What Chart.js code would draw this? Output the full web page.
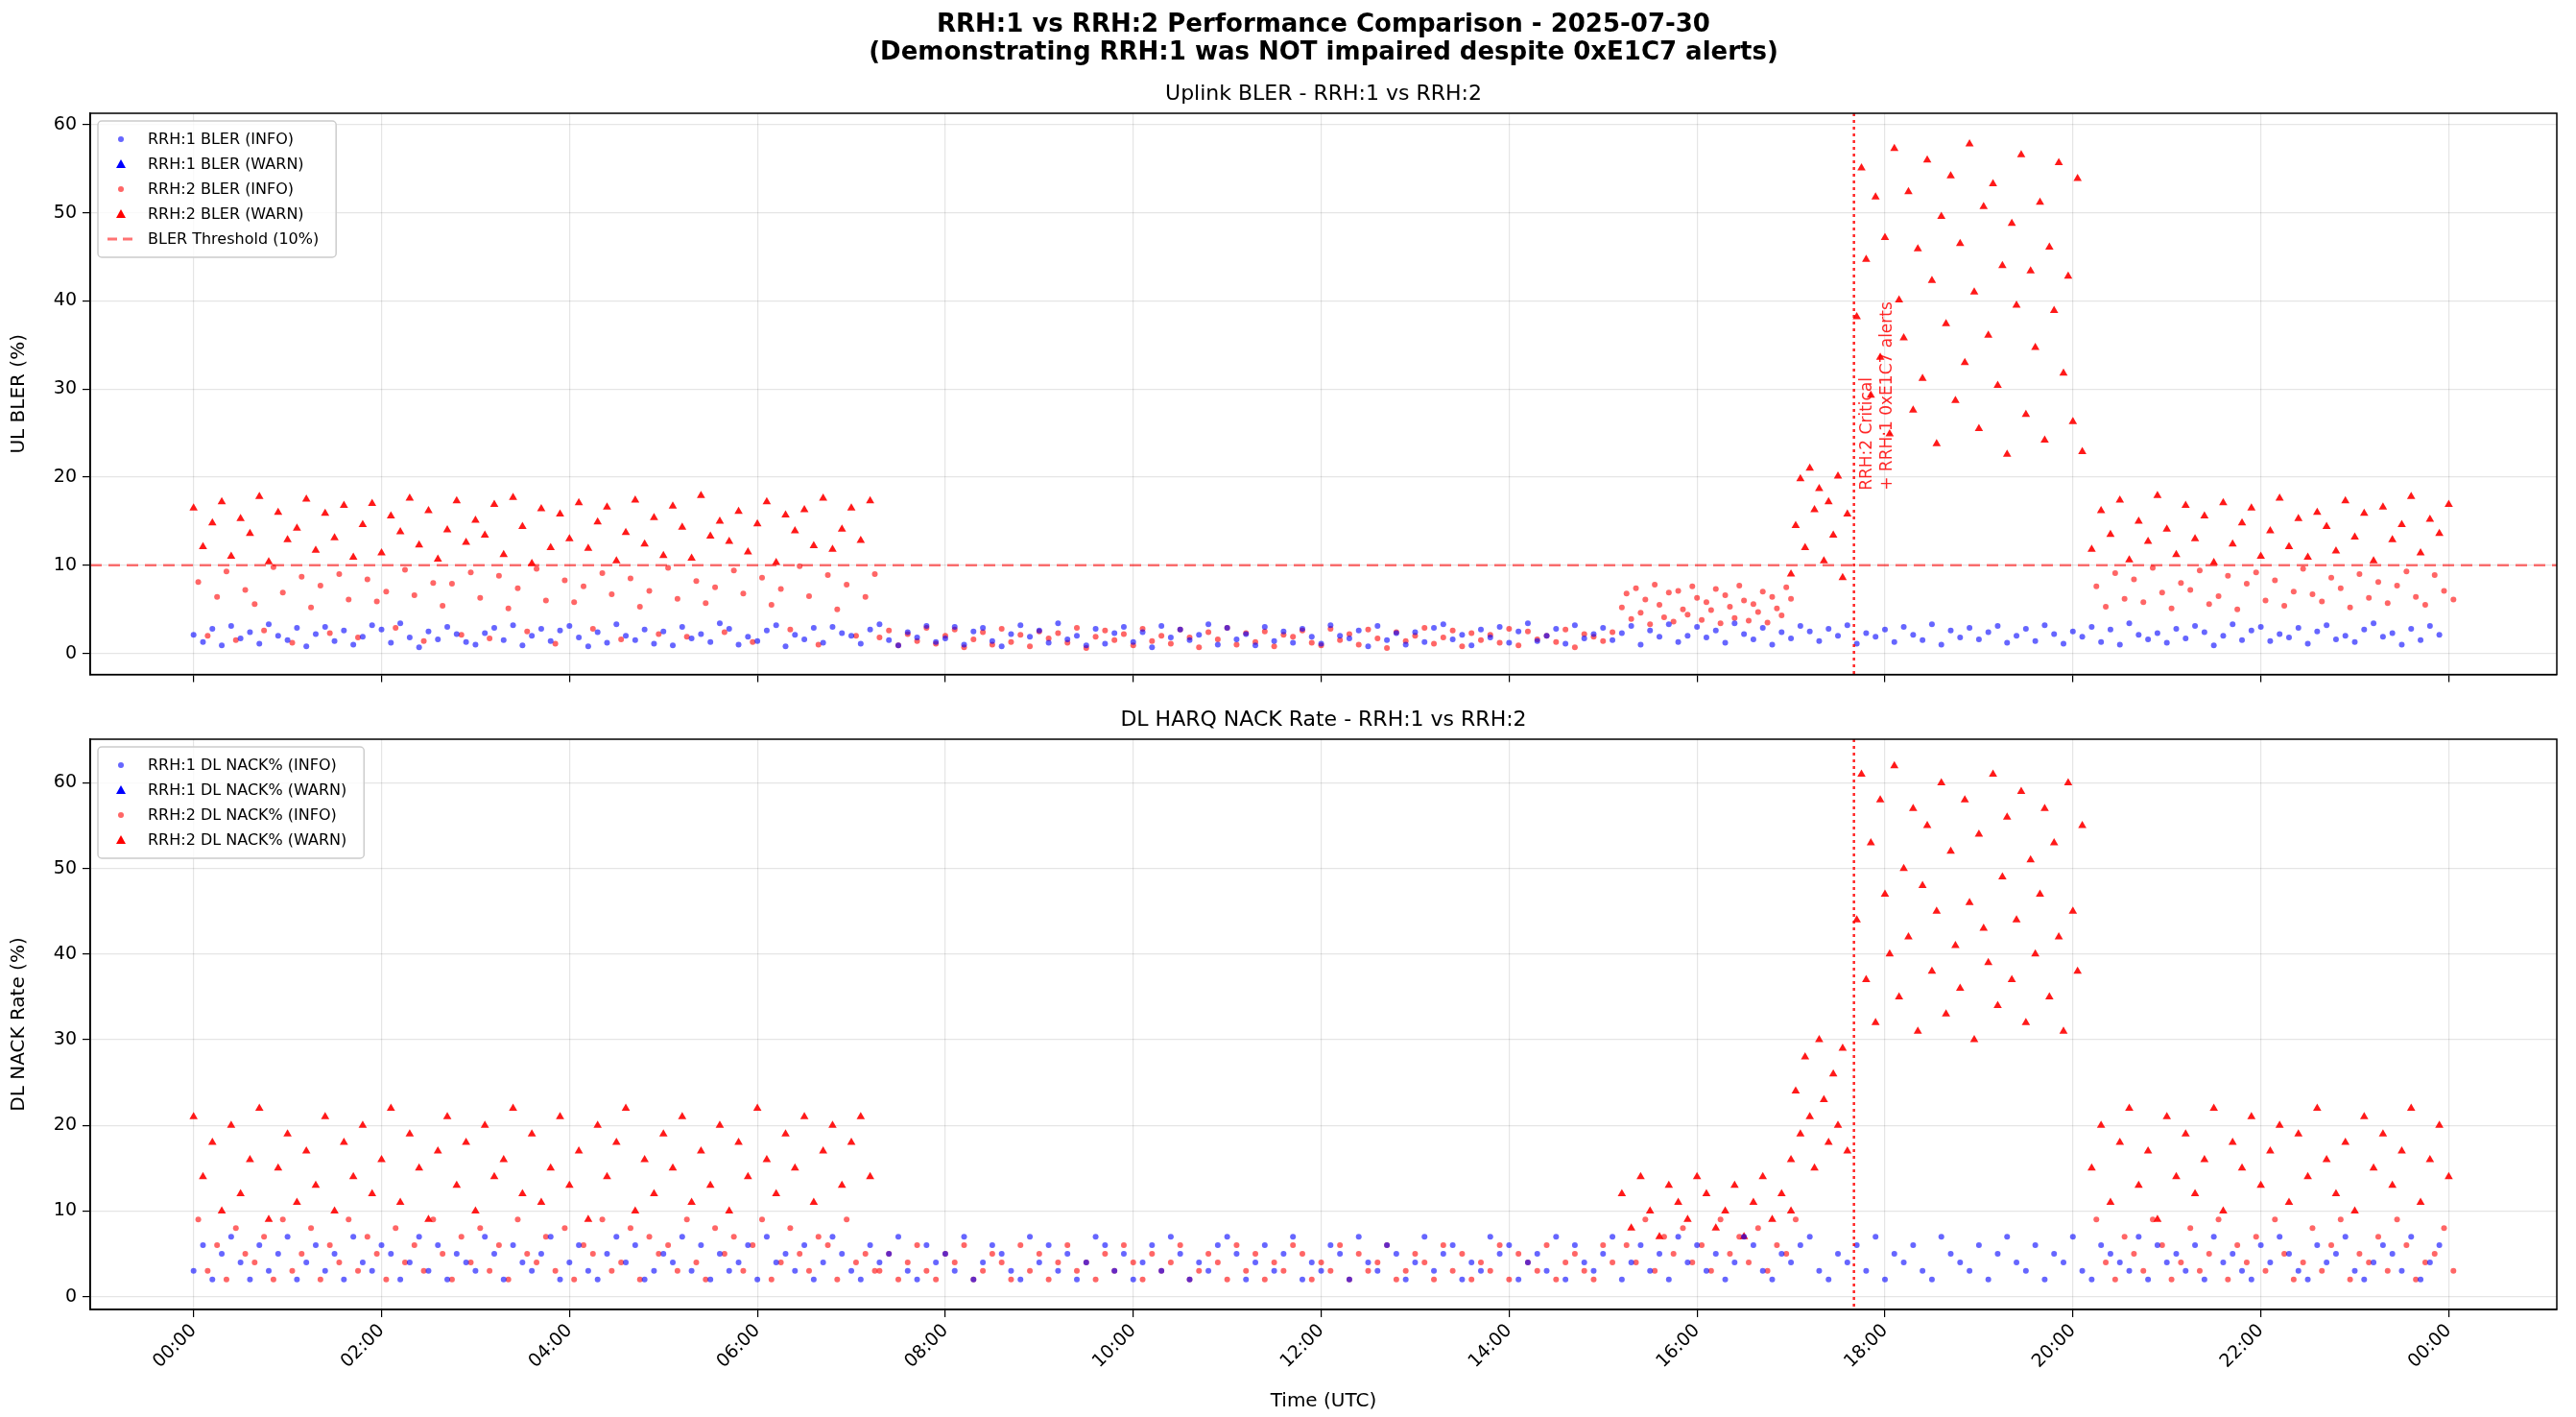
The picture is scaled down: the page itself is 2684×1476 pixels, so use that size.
<!DOCTYPE html>
<html>
<head>
<meta charset="utf-8">
<script src="https://cdn.jsdelivr.net/npm/chart.js@4/dist/chart.umd.min.js"></script>
<style>
  body { margin: 0; background: #fff; }
  #wrap { position: relative; width: 2684px; height: 1476px; }
  .box { position: absolute; left: 0; width: 2684px; }
</style>
</head>
<body>
<div id="wrap">
  <div class="box" style="top:0;height:720px"><canvas id="ul"></canvas></div>
  <div class="box" style="top:720px;height:756px"><canvas id="dl"></canvas></div>
</div>
<script>
// time in hours since 00:00 UTC, alert marker
const alertHour = 17.67;
const hourTicks = [0, 2, 4, 6, 8, 10, 12, 14, 16, 18, 20, 22, 24];
const blerThreshold = 10;

// UL BLER, RRH:1 (INFO) every 0.1 h over the day
const ulRrh1Info = [
  2.1,1.3,2.8,0.9,3.1,1.7,2.4,1.1,3.3,2.0, 1.5,2.9,0.8,2.2,3.0,1.4,2.6,1.0,1.9,3.2,
  2.7,1.2,3.4,1.8,0.7,2.5,1.6,3.0,2.2,1.3, 1.0,2.3,2.9,1.5,3.2,0.9,2.0,2.8,1.4,2.6,
  3.1,1.8,0.8,2.4,1.2,3.3,2.0,1.5,2.7,1.1, 2.5,0.9,3.0,1.7,2.2,1.3,3.4,2.8,1.0,1.9,
  1.4,2.6,3.2,0.8,2.1,1.6,2.9,1.2,3.0,2.3, 2.0,1.1,2.7,3.3,1.5,0.9,2.4,1.8,3.1,1.3,
  1.7,3.0,1.0,2.5,2.9,1.4,0.8,2.2,3.2,1.9, 2.6,1.2,3.4,1.6,2.0,0.9,2.8,1.1,2.3,3.0,
  1.3,2.4,0.7,3.1,1.8,2.7,1.5,2.1,3.3,1.0, 2.9,1.6,2.2,0.9,3.0,1.4,2.5,1.2,2.8,1.9,
  1.1,3.2,2.0,1.7,2.6,0.8,3.1,1.5,2.3,1.0, 2.4,1.3,2.9,3.3,1.6,2.1,0.9,2.7,1.8,3.0,
  1.2,2.5,3.4,1.4,2.0,2.8,1.1,3.2,1.7,2.2, 2.9,1.5,2.3,3.1,1.0,2.6,1.9,3.3,1.3,2.0,
  3.0,1.8,2.6,1.2,3.4,2.2,1.6,2.9,1.0,2.4, 1.7,3.1,2.5,1.4,2.8,2.0,3.2,1.1,2.3,1.9,
  2.7,1.3,3.0,2.1,1.5,3.3,1.0,2.6,1.8,2.9, 1.6,2.4,3.1,1.2,2.0,2.8,1.4,3.2,2.2,1.1,
  2.5,1.9,3.0,1.3,2.7,1.0,3.4,2.1,1.6,2.3, 1.2,2.8,1.7,3.1,2.4,0.9,2.0,3.3,1.5,2.6,
  3.0,1.4,2.2,1.8,2.9,1.1,2.5,3.2,1.6,2.0, 1.3,2.7,3.4,1.9,2.3,1.0,2.8,1.5,3.1,2.1
];

// UL BLER, RRH:2 (WARN) segments
const ulRrh2WarnA = [
  16.5,12.1,14.8,17.2,11.0,15.3,13.6,17.8,10.4,16.0, 12.9,14.2,17.5,11.7,15.9,13.1,16.8,10.9,14.6,17.0,
  11.4,15.6,13.8,17.6,12.3,16.2,10.7,14.0,17.3,12.6, 15.1,13.4,16.9,11.2,17.7,14.4,10.2,16.4,12.0,15.8,
  13.0,17.1,11.9,14.9,16.6,10.5,13.7,17.4,12.4,15.4, 11.1,16.7,14.3,10.8,17.9,13.3,15.0,12.7,16.1,11.5,
  14.7,17.2,10.3,15.7,13.9,16.3,12.2,17.6,11.8,14.1,16.5,12.8,17.3
];
const ulRrh2WarnB = [9.0,14.5,19.8,12.0,21.0,16.3,18.7,10.5,17.2,13.4,20.1,8.6,15.8];
const ulRrh2WarnC = [
  38.2,55.1,44.7,29.3,51.8,33.6,47.2,24.9,57.3,40.1, 35.8,52.4,27.6,45.9,31.2,56.0,42.3,23.8,49.6,37.4,
  54.2,28.7,46.5,33.0,57.8,41.0,25.5,50.7,36.1,53.3, 30.4,44.0,22.6,48.8,39.5,56.6,27.1,43.4,34.7,51.2,
  24.2,46.1,38.9,55.7,31.8,42.8,26.3,53.9,22.9
];
const ulRrh2WarnD = [
  11.8,16.2,13.5,17.4,10.6,15.0,12.7,17.9,14.1,11.2, 16.8,13.0,15.6,10.3,17.1,12.4,14.8,16.5,11.0,13.9,
  17.6,12.1,15.3,10.9,16.0,14.4,11.6,17.3,13.2,15.9, 10.5,16.6,12.9,14.6,17.8,11.4,15.2,13.6,16.9
];

// UL BLER, RRH:2 (INFO) segments
const ulRrh2InfoA = [
  8.1,2.0,6.4,9.3,1.5,7.2,5.6,2.6,9.8,6.9, 1.2,8.7,5.2,7.7,2.3,9.0,6.1,1.8,8.4,5.9,
  7.0,2.9,9.5,6.6,1.4,8.0,5.4,7.9,2.1,9.2, 6.3,1.7,8.8,5.1,7.4,2.5,9.6,6.0,1.1,8.3,
  5.8,7.6,2.8,9.1,6.7,1.6,8.5,5.3,7.1,2.2, 9.7,6.2,1.9,8.2,5.7,7.5,2.4,9.4,6.8,1.3,
  8.6,5.5,7.3,2.7,9.9,6.5,1.0,8.9,5.0,7.8,2.0,6.4,9.0
];
const ulRrh2InfoB = [
  1.8,2.6,0.9,2.2,1.4,2.9,1.1,2.0,2.7,0.7, 1.6,2.4,1.0,2.8,1.3,2.1,0.8,2.5,1.7,2.3,
  1.2,2.9,0.6,1.9,2.6,1.5,2.2,0.9,2.8,1.4, 2.0,1.1,2.7,1.8,0.7,2.4,1.6,2.9,1.0,2.3,
  1.3,2.5,0.8,2.1,1.9,2.6,1.2,0.9,2.8,1.5, 2.2,1.0,2.7,1.7,0.6,2.4,1.4,2.0,2.9,1.1,
  1.8,2.6,0.8,2.3,1.5,2.1,1.2,2.8,0.9,2.5, 1.6,2.0,1.3,2.7,0.7,2.2,1.9,1.4,2.4
];
const ulRrh2InfoC = [
  5.2,6.8,3.9,7.4,4.6,6.1,3.3,7.8,5.5,4.1, 6.9,3.6,7.1,5.0,4.4,7.6,6.3,3.8,5.8,4.9,
  7.3,3.4,6.6,5.3,4.0,7.7,6.0,3.7,5.6,4.7, 7.0,3.5,6.4,5.1,4.3,7.5,6.2
];
const ulRrh2InfoD = [
  7.6,5.3,9.1,6.2,8.4,5.8,9.7,6.9,5.1,8.0, 7.2,9.4,5.6,6.5,8.8,5.0,7.9,9.2,6.0,8.3,
  5.4,7.0,9.6,6.7,5.9,8.6,7.4,5.2,9.0,6.3, 8.1,5.7,7.7,9.3,6.4,5.5,8.9,7.1,6.1
];

// DL NACK %, RRH:1 (INFO) every 0.1 h
const dlRrh1Info = [
  3,6,2,5,7,4,2,6,3,5, 7,2,4,6,3,5,2,7,4,3, 6,5,2,4,7,3,6,2,5,4, 3,7,5,2,6,4,3,5,7,2,
  4,6,3,2,5,7,4,6,2,3, 5,4,7,3,6,2,5,3,4,6, 2,7,4,5,3,6,2,4,7,5, 3,2,6,4,5,7,3,2,6,4,
  5,3,7,2,4,6,5,3,2,7, 4,6,3,5,2,4,7,6,3,5, 2,4,6,3,7,5,2,4,3,6, 7,5,2,4,6,3,5,7,2,4,
  3,6,5,2,7,4,3,6,5,2, 4,7,3,5,6,2,4,3,7,5, 6,2,4,5,3,7,2,6,4,3, 5,7,2,4,6,3,5,2,7,4,
  6,3,5,2,4,7,6,3,2,5, 4,6,7,3,2,5,4,6,3,7, 2,5,4,6,3,2,7,5,4,3, 6,2,5,7,4,3,6,2,5,4,
  7,3,2,6,5,4,3,7,2,6, 4,5,3,6,2,7,4,5,3,2, 6,4,7,5,3,2,6,4,5,7, 3,2,4,6,5,3,7,2,4,6
];

// DL NACK %, RRH:2 (WARN) segments
const dlRrh2WarnA = [
  21,14,18,10,20,12,16,22,9,15, 19,11,17,13,21,10,18,14,20,12, 16,22,11,19,15,9,17,21,13,18,
  10,20,14,16,22,12,19,11,15,21, 13,17,9,20,14,18,22,10,16,12, 19,15,21,11,17,13,20,10,18,14,
  22,16,12,19,15,21,11,17,20,13,18,21,14
];
const dlRrh2WarnB = [12,8,14,10,7,13,11,9,14,12,8,10,13,7,11,14,9,12,10];
const dlRrh2WarnC = [16,24,19,28,21,15,30,23,18,26,20,29,17];
const dlRrh2WarnD = [
  44,61,37,53,32,58,47,40,62,35, 50,42,57,31,48,55,38,45,60,33, 52,41,36,58,46,30,54,43,39,61,
  34,49,56,37,44,59,32,51,40,47, 57,35,53,42,31,60,45,38,55
];
const dlRrh2WarnE = [
  15,20,11,18,22,13,17,9,21,14, 19,12,16,22,10,18,15,21,13,17, 20,11,19,14,22,16,12,18,10,21,
  15,19,13,17,22,11,16,20,14
];

// DL NACK %, RRH:2 (INFO) segments
const dlRrh2InfoA = [
  9,3,6,2,8,5,4,7,2,9, 3,5,8,2,6,4,9,3,7,5, 2,8,4,6,3,9,5,2,7,4, 8,3,6,2,9,5,4,7,3,8,
  2,6,5,9,3,4,8,2,7,5, 6,3,9,4,2,8,5,7,3,6, 9,2,4,8,5,3,7,6,2,9,4,5,3
];
const dlRrh2InfoB = [
  3,5,2,4,6,3,2,5,4,6, 2,3,5,4,2,6,3,5,2,4, 6,3,4,2,5,3,6,4,2,5, 3,4,6,2,3,5,4,2,6,3,
  5,2,4,3,6,5,2,4,3,6, 2,5,3,4,6,2,3,5,4,2, 6,3,5,2,4,3,6,2,5,4, 3,6,2,4,5,3,2,6,4
];
const dlRrh2InfoC = [6,4,9,3,7,5,8,4,6,3,9,5,7,4,8,3,6,5,9];
const dlRrh2InfoD = [
  9,4,2,7,5,3,9,6,2,4, 8,3,5,9,2,6,4,7,3,9, 5,2,4,8,3,6,9,2,5,4, 7,3,9,6,2,4,5,8,3
];

// segment tables: start hour, step (h), values
const ulBlue = [{ start: 0, step: 0.1, values: ulRrh1Info }];
const ulRedWarn = [
  { start: 0, step: 0.1, values: ulRrh2WarnA },
  { start: 17.0, step: 0.05, values: ulRrh2WarnB },
  { start: 17.7, step: 0.05, values: ulRrh2WarnC },
  { start: 20.2, step: 0.1, values: ulRrh2WarnD }
];
const ulRedInfo = [
  { start: 0.05, step: 0.1, values: ulRrh2InfoA },
  { start: 7.3, step: 0.1, values: ulRrh2InfoB },
  { start: 15.2, step: 0.05, values: ulRrh2InfoC },
  { start: 20.25, step: 0.1, values: ulRrh2InfoD }
];
const dlBlue = [{ start: 0, step: 0.1, values: dlRrh1Info }];
const dlRedWarn = [
  { start: 0, step: 0.1, values: dlRrh2WarnA },
  { start: 15.2, step: 0.1, values: dlRrh2WarnB },
  { start: 17.0, step: 0.05, values: dlRrh2WarnC },
  { start: 17.7, step: 0.05, values: dlRrh2WarnD },
  { start: 20.2, step: 0.1, values: dlRrh2WarnE }
];
const dlRedInfo = [
  { start: 0.05, step: 0.1, values: dlRrh2InfoA },
  { start: 7.3, step: 0.1, values: dlRrh2InfoB },
  { start: 15.25, step: 0.1, values: dlRrh2InfoC },
  { start: 20.25, step: 0.1, values: dlRrh2InfoD }
];

function toPoints(segs) {
  const pts = [];
  segs.forEach(s => s.values.forEach((v, i) => pts.push({ x: s.start + i * s.step, y: v })));
  return pts;
}

const FONT = "'DejaVu Sans', sans-serif";
Chart.defaults.font.family = FONT;
Chart.defaults.color = "#000";
Chart.defaults.animation = false;

const BLUE_I = "rgba(0,0,255,0.6)";
const RED_I = "rgba(255,0,0,0.6)";
const RED_W = "rgba(255,0,0,0.9)";

function hh(v) {
  const h = ((v % 24) + 24) % 24;
  return String(h).padStart(2, "0") + ":00";
}

function scatter(label, pts, color, tri) {
  return {
    type: "scatter", label, data: pts,
    backgroundColor: color, borderColor: color, borderWidth: 0,
    pointStyle: tri ? "triangle" : "circle",
    pointRadius: tri ? 5 : 3
  };
}

// legend box drawn inside the plot, top-left
function legendPlugin(entries) {
  return {
    id: "boxLegend",
    afterDraw(chart) {
      const { ctx, chartArea } = chart;
      const x0 = chartArea.left + 8, y0 = chartArea.top + 8;
      const rowH = 26;
      ctx.save();
      ctx.font = "16px " + FONT;
      let wMax = 0;
      entries.forEach(e => { wMax = Math.max(wMax, ctx.measureText(e.label).width); });
      const w = wMax + 70, h = entries.length * rowH + 12;
      ctx.fillStyle = "rgba(255,255,255,0.8)";
      ctx.strokeStyle = "#ccc";
      ctx.lineWidth = 1.5;
      ctx.beginPath();
      ctx.roundRect(x0, y0, w, h, 4);
      ctx.fill(); ctx.stroke();
      entries.forEach((e, i) => {
        const cy = y0 + 6 + rowH * i + rowH / 2;
        const cx = x0 + 24;
        ctx.fillStyle = e.color;
        ctx.strokeStyle = e.color;
        if (e.kind === "circle") {
          ctx.beginPath(); ctx.arc(cx, cy, 3, 0, Math.PI * 2); ctx.fill();
        } else if (e.kind === "tri") {
          ctx.beginPath(); ctx.moveTo(cx, cy - 5); ctx.lineTo(cx + 5, cy + 4); ctx.lineTo(cx - 5, cy + 4); ctx.closePath(); ctx.fill();
        } else {
          ctx.lineWidth = 3; ctx.setLineDash([10, 6]);
          ctx.beginPath(); ctx.moveTo(cx - 14, cy); ctx.lineTo(cx + 16, cy); ctx.stroke();
          ctx.setLineDash([]);
        }
        ctx.fillStyle = "#000";
        ctx.textBaseline = "middle";
        ctx.fillText(e.label, x0 + 52, cy + 1);
      });
      ctx.restore();
    }
  };
}

const alertLine = {
  id: "alertLine",
  afterDatasetsDraw(chart, args, opts) {
    const { ctx, chartArea, scales } = chart;
    const x = scales.x.getPixelForValue(alertHour);
    ctx.save();
    ctx.strokeStyle = "rgba(255,0,0,0.85)";
    ctx.lineWidth = 2.5;
    ctx.setLineDash([3, 4]);
    ctx.beginPath(); ctx.moveTo(x, chartArea.top); ctx.lineTo(x, chartArea.bottom); ctx.stroke();
    ctx.setLineDash([]);
    if (opts && opts.text) {
      ctx.translate(x + 14, scales.y.getPixelForValue(18.5));
      ctx.rotate(-Math.PI / 2);
      ctx.fillStyle = "rgba(255,0,0,0.85)";
      ctx.font = "17px " + FONT;
      ctx.textBaseline = "middle";
      ctx.fillText("RRH:2 Critical", 0, 0);
      ctx.fillText("+ RRH:1 0xE1C7 alerts", 0, 21);
    }
    ctx.restore();
  }
};

// full frame around the plot area
const frame = {
  id: "frame",
  afterDraw(chart) {
    const { ctx, chartArea: a } = chart;
    ctx.save();
    ctx.strokeStyle = "#000";
    ctx.lineWidth = 1.5;
    ctx.strokeRect(a.left, a.top, a.right - a.left, a.bottom - a.top);
    ctx.restore();
  }
};

const titles = {
  id: "titles",
  afterDraw(chart, args, opts) {
    const { ctx, chartArea } = chart;
    const cx = (chartArea.left + chartArea.right) / 2;
    ctx.save();
    ctx.fillStyle = "#000";
    ctx.textAlign = "center";
    ctx.textBaseline = "middle";
    if (opts.main) {
      ctx.font = "bold 26px " + FONT;
      ctx.fillText("RRH:1 vs RRH:2 Performance Comparison - 2025-07-30", cx, 26);
      ctx.fillText("(Demonstrating RRH:1 was NOT impaired despite 0xE1C7 alerts)", cx, 55);
    }
    ctx.font = "22px " + FONT;
    ctx.fillText(opts.sub, cx, chartArea.top - 20);
    ctx.restore();
  }
};

function options(yTitle, yMax, yMin, showX, titleOpts, alertText) {
  return {
    responsive: true,
    maintainAspectRatio: false,
    layout: { padding: { top: showX ? 50 : 118, right: 20, bottom: showX ? 0 : 12, left: 0 } },
    plugins: {
      legend: { display: false },
      tooltip: { enabled: false },
      titles: titleOpts,
      alertLine: { text: alertText }
    },
    scales: {
      x: {
        type: "linear", min: -1.1, max: 25.15,
        afterBuildTicks: s => { s.ticks = hourTicks.map(v => ({ value: v })); },
        afterFit: s => { s.height = showX ? 112 : 0; },
        grid: { color: "rgba(0,0,0,0.1)", tickLength: 8, tickColor: "#000", lineWidth: 1.2 },
        border: { color: "#000", width: 1.5 },
        ticks: {
          display: showX, maxRotation: 45, minRotation: 45, autoSkip: false,
          font: { size: 19 }, callback: v => hh(v)
        },
        title: { display: showX, text: "Time (UTC)", font: { size: 20 }, padding: { top: 0 } }
      },
      y: {
        min: yMin, max: yMax,
        afterFit: s => { s.width = 94; },
        afterBuildTicks: s => { s.ticks = [0, 10, 20, 30, 40, 50, 60].map(v => ({ value: v })); },
        grid: { color: "rgba(0,0,0,0.1)", tickLength: 8, tickColor: "#000", lineWidth: 1.2 },
        border: { color: "#000", width: 1.5 },
        ticks: { font: { size: 19 }, padding: 6 },
        title: { display: true, text: yTitle, font: { size: 20 }, padding: { top: 8, bottom: 4 } }
      }
    }
  };
}

new Chart(document.getElementById("ul"), {
  data: {
    datasets: [
      scatter("RRH:1 BLER (INFO)", toPoints(ulBlue), BLUE_I, false),
      scatter("RRH:2 BLER (INFO)", toPoints(ulRedInfo), RED_I, false),
      scatter("RRH:2 BLER (WARN)", toPoints(ulRedWarn), RED_W, true),
      {
        type: "line", label: "BLER Threshold (10%)",
        data: [{ x: -1.1, y: blerThreshold }, { x: 25.15, y: blerThreshold }],
        borderColor: "rgba(255,0,0,0.55)", borderWidth: 2.5, borderDash: [12, 7], pointRadius: 0
      }
    ]
  },
  options: options("UL BLER (%)", 61.3, -2.4, false,
    { main: true, sub: "Uplink BLER - RRH:1 vs RRH:2" }, true),
  plugins: [titles, alertLine, frame, legendPlugin([
    { label: "RRH:1 BLER (INFO)", color: BLUE_I, kind: "circle" },
    { label: "RRH:1 BLER (WARN)", color: "#00f", kind: "tri" },
    { label: "RRH:2 BLER (INFO)", color: RED_I, kind: "circle" },
    { label: "RRH:2 BLER (WARN)", color: "#f00", kind: "tri" },
    { label: "BLER Threshold (10%)", color: "rgba(255,0,0,0.55)", kind: "dash" }
  ])]
});

new Chart(document.getElementById("dl"), {
  data: {
    datasets: [
      scatter("RRH:1 DL NACK% (INFO)", toPoints(dlBlue), BLUE_I, false),
      scatter("RRH:2 DL NACK% (INFO)", toPoints(dlRedInfo), RED_I, false),
      scatter("RRH:2 DL NACK% (WARN)", toPoints(dlRedWarn), RED_W, true)
    ]
  },
  options: options("DL NACK Rate (%)", 65.1, -1.5, true,
    { main: false, sub: "DL HARQ NACK Rate - RRH:1 vs RRH:2" }, false),
  plugins: [titles, alertLine, frame, legendPlugin([
    { label: "RRH:1 DL NACK% (INFO)", color: BLUE_I, kind: "circle" },
    { label: "RRH:1 DL NACK% (WARN)", color: "#00f", kind: "tri" },
    { label: "RRH:2 DL NACK% (INFO)", color: RED_I, kind: "circle" },
    { label: "RRH:2 DL NACK% (WARN)", color: "#f00", kind: "tri" }
  ])]
});
</script>
</body>
</html>
